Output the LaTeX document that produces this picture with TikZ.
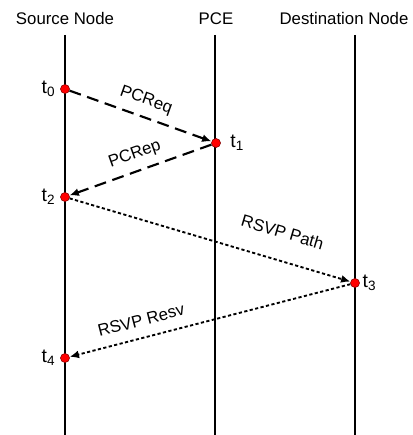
\documentclass[tikz,border=0pt]{standalone}
\usepackage{fontspec}
\setmainfont{Liberation Sans}
\usetikzlibrary{arrows.meta}
\begin{document}
\begin{tikzpicture}[x=0.75pt, y=-0.75pt,
      every node/.style={font=\fontsize{12.6}{15}\selectfont},
      header/.style={anchor=base, inner sep=0pt},
      life/.style={line width=1.5pt},
      event/.style={circle, fill=red, draw=red!50!black, line width=0.4pt, inner sep=0pt, minimum size=6.8pt},
      tlabel/.style={inner sep=0pt, font=\fontsize{14.5}{16}\selectfont},
      req/.style={line width=1.6pt, dash pattern=on 9pt off 5pt, -{Latex[length=7pt, width=6pt]}},
      sig/.style={line width=1.4pt, dash pattern=on 2.4pt off 1.8pt, -{Latex[length=7pt, width=6pt]}},
      msglabel/.style={sloped, inner sep=1pt}
  ]
    \useasboundingbox (0,0) rectangle (413,435);
    \node[header] (source) at (65,25) {Source Node};
    \node[header] (pce) at (216,25) {PCE};
    \node[header] (dest) at (344,25) {Destination Node};

    \foreach \name/\x in {src/65,mid/215,dst/355} {
      \coordinate (\name top) at (\x,35);
      \coordinate (\name bot) at (\x,435);
      \draw[life] (\name top) -- (\name bot);
    }

    \node[event] (t0) at (65,89) {};
    \node[event] (t1) at (216,143) {};
    \node[event] (t2) at (65,197) {};
    \node[event] (t3) at (355,283) {};
    \node[event] (t4) at (65,358) {};

    \node[tlabel, left=3.5pt] at (t0.west) {t\textsubscript{0}};
    \node[tlabel, right=7pt] at (t1.east) {t\textsubscript{1}};
    \node[tlabel, left=3.5pt] at (t2.west) {t\textsubscript{2}};
    \node[tlabel, right=2pt] at (t3.east) {t\textsubscript{3}};
    \node[tlabel, left=3.5pt] at (t4.west) {t\textsubscript{4}};

    \draw[req] (t0) -- node[msglabel, above=5pt] {PCReq} (t1);
    \draw[req] (t1) -- node[msglabel, above=5pt] {PCRep} (t2);
    \draw[sig] (t2) -- node[msglabel, pos=0.73, above=15pt] {RSVP Path} (t3);
    \draw[sig] (t3) -- node[msglabel, pos=0.73, above=7pt] {RSVP Resv} (t4);
  \end{tikzpicture}
\end{document}
